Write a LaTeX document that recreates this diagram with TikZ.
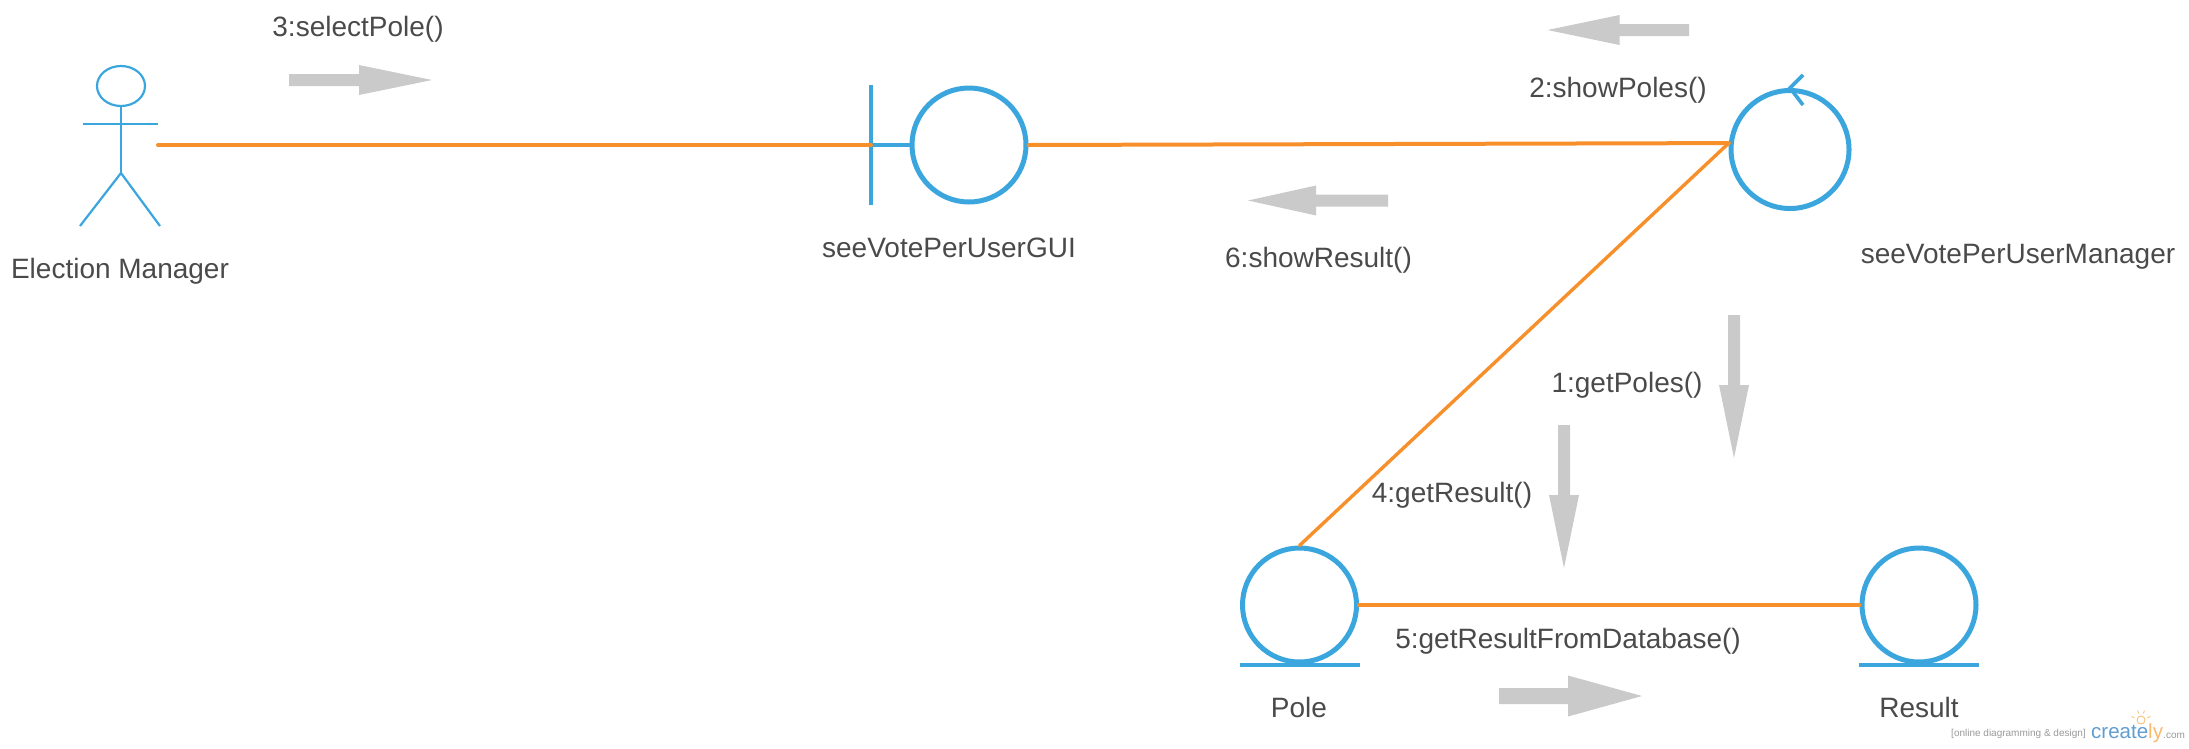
\documentclass[tikz,border=0pt]{standalone}
\usepackage{fontspec}
\setmainfont{Liberation Sans}
\usetikzlibrary{calc,positioning,shapes.geometric}
\definecolor{umlblue}{HTML}{3AA6DD}
\definecolor{linkorange}{HTML}{F7902B}
\definecolor{msggrey}{HTML}{CACACA}
\definecolor{lbltext}{HTML}{4A4A4A}
\definecolor{logoblue}{HTML}{5F9DD3}
\definecolor{logoorange}{HTML}{F9B96B}
\tikzset{
    lbl/.style={anchor=base,inner sep=0pt,yshift=-1pt,text=lbltext,font=\fontsize{28}{32}\selectfont},
    link/.style={draw=linkorange,line width=4pt,line cap=round},
    robust/.style={draw=umlblue,line width=5pt,circle,inner sep=0pt},
    stick/.style={draw=umlblue,line width=2.2pt},
    msgarrow/.style={fill=msggrey,draw=none}
}
\begin{document}
\begin{tikzpicture}[x=1pt,y=-1pt]
    \useasboundingbox (0,0) rectangle (2189,748);

    % Actor.
    \node[draw=umlblue,line width=2.2pt,ellipse,inner sep=0pt,minimum width=48pt,minimum height=40pt]
        (head) at (121,86) {};
    \coordinate (hip) at (121,173);
    \coordinate (footL) at (80,226);
    \coordinate (footR) at (160,226);
    \coordinate (armL) at (83,124);
    \coordinate (armR) at (158,124);
    \coordinate (hand) at (158,145);
    \draw[stick] (head.south) -- (hip);
    \draw[stick] (armL) -- (armR);
    \draw[stick] (footL) -- (hip) -- (footR);

    % Boundary, control and the two entities.
    \node[robust,minimum size=114pt] (gui) at (969,145) {};
    \coordinate (guiBar) at (871,145);
    \draw[umlblue,line width=4pt] (871,85) -- (871,205);
    \draw[umlblue,line width=4pt] (guiBar) -- (gui.west);

    \node[robust,minimum size=118pt] (manager) at (1790,149.5) {};
    \coordinate (chevA) at (1803,75);
    \coordinate (chevB) at (1803,105);
    \draw[umlblue,line width=3.6pt] (chevA) -- (manager.north) -- (chevB);

    \node[robust,minimum size=114pt] (pole) at (1299.5,605) {};
    \node[robust,minimum size=114pt] (result) at (1919,605) {};
    \foreach \e in {pole,result}
    {
        \draw[umlblue,line width=4pt] ([xshift=-60pt]\e.south) -- ([xshift=60pt]\e.south);
    }

    % Links.
    \draw[link] (hand) -- (guiBar);
    \draw[link] (gui.east) -- (manager.174);
    \draw[link,line width=3.4pt] (manager.174) -- (pole.north);
    \draw[link] (pole.east) -- (result.west);

    % Message arrows: tail x/tail y/angle/length/head length/half head/half shaft.
    \foreach \x/\y/\a/\len/\hl/\hw/\sw in {
        289/80/0/143/73/15/6,
        1388/200.5/180/140/68/15/6,
        1689/30/180/141.5/72/15/6,
        1734/315/-90/143/73/15/6,
        1564/425/-90/143/73/15/6,
        1499/696/0/143/74/20.5/8}
    {
        \begin{scope}[shift={(\x,\y)},rotate=\a]
            \fill[msgarrow] (0,-\sw) -- ({\len-\hl},-\sw) -- ({\len-\hl},-\hw) -- (\len,0)
                -- ({\len-\hl},\hw) -- ({\len-\hl},\sw) -- (0,\sw) -- cycle;
        \end{scope}
    }

    % Labels.
    \node[lbl] (lblActor) at (120,277) {Election Manager};
    \node[lbl] (lblSelect) at (358,35) {3:selectPole()};
    \node[lbl] (lblGui) at (949,256) {seeVotePerUserGUI};
    \node[lbl] (lblResultMsg) at (1318.5,266) {6:showResult()};
    \node[lbl] (lblShow) at (1618,96) {2:showPoles()};
    \node[lbl] (lblManager) at (2018,262) {seeVotePerUserManager};
    \node[lbl] (lblGet) at (1627,391) {1:getPoles()};
    \node[lbl] (lblGetRes) at (1452,501) {4:getResult()};
    \node[lbl] (lblDb) at (1568,647) {5:getResultFromDatabase()};
    \node[lbl] (lblPole) at (1299,716) {Pole};
    \node[lbl] (lblResult) at (1919,716) {Result};

    % Watermark.
    \node[anchor=base west,inner sep=0pt,text=black!40,font=\fontsize{10}{12}\selectfont]
        (wmTag) at (1951,736) {[online diagramming \& design]};
    \node[anchor=base west,inner sep=0pt,font=\fontsize{20.5}{24}\selectfont]
        (wmLogo) at (2091,738) {\textcolor{logoblue}{create}\textcolor{logoorange}{ly}};
    \node[anchor=base west,inner sep=0pt,text=black!40,font=\fontsize{10}{12}\selectfont]
        (wmCom) at (2163,738) {.com};
    \node[draw=logoorange,line width=.8pt,circle,inner sep=0pt,minimum size=8pt] (wmBulb) at (2141,720) {};
    \foreach \a in {20,70,110,160}
    {
        \draw[logoorange,line width=.8pt] ($(wmBulb)+(\a:7pt)$) -- ($(wmBulb)+(\a:10pt)$);
    }
\end{tikzpicture}
\end{document}
